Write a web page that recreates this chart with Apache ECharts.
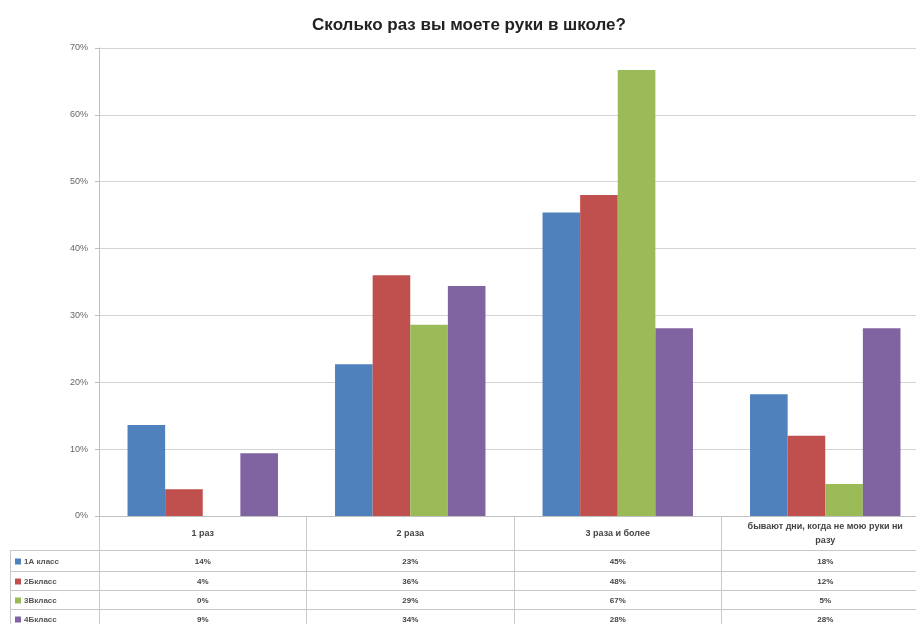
<!DOCTYPE html>
<html>
<head>
<meta charset="utf-8">
<script src="https://cdn.jsdelivr.net/npm/echarts@6/dist/echarts.min.js"></script>
<style>
html,body{margin:0;padding:0;background:#fff}
#main{width:916px;height:624px}
</style>
</head>
<body>
<div id="main"></div>
<script>
// данные с картинки
var categories = ['1 раз', '2 раза', '3 раза и более', 'бывают дни, когда не мою руки ни разу']
var seriesNames = ['1А класс', '2Бкласс', '3Вкласс', '4Бкласс']
var colors = ['#4F81BD', '#C0504D', '#9BBB59', '#8064A2']
var class1A = [13.6, 22.7, 45.4, 18.2]
var class2B = [4.0, 36.0, 48.0, 12.0]
var class3V = [0, 28.6, 66.7, 4.8]
var class4B = [9.4, 34.4, 28.1, 28.1]
var allValues = [class1A, class2B, class3V, class4B]

var FONT = 'Liberation Sans'
var chart = echarts.init(document.getElementById('main'))

var seriesArr = allValues.map(function (vals, i) {
	return {
		type: 'bar',
		name: seriesNames[i],
		data: vals,
		barGap: 0,
		barCategoryGap: '27.5%',
		itemStyle: { color: colors[i] }
	}
})

var option = {
	animation: false,
	color: colors,
	title: {
		text: 'Сколько раз вы моете руки в школе?',
		left: 464,
		textAlign: 'center',
		top: 12,
		textStyle: { fontFamily: FONT, fontSize: 17, fontWeight: 'bold', color: '#222' }
	},
	grid: { left: 99, width: 830, top: 48, bottom: 108, outerBoundsMode: 'none' },
	xAxis: {
		type: 'category',
		data: categories,
		axisLine: { lineStyle: { color: '#bfbfbf' } },
		axisTick: { show: true, length: 130, lineStyle: { color: '#c8c8c8' } },
		axisLabel: {
			interval: 0,
			margin: 18,
			verticalAlign: 'middle',
			lineHeight: 14,
			fontFamily: FONT,
			fontSize: 9,
			fontWeight: 'bold',
			color: '#444',
			formatter: function (v) { return v.replace(' ни разу', ' ни\nразу') }
		}
	},
	yAxis: {
		type: 'value',
		min: 0,
		max: 70,
		interval: 10,
		axisLine: { show: true, lineStyle: { color: '#bfbfbf' } },
		axisTick: { show: true, length: 4, lineStyle: { color: '#bfbfbf' } },
		splitLine: { lineStyle: { color: '#d4d4d4', width: 1 } },
		axisLabel: { formatter: '{value}%', fontFamily: FONT, fontSize: 9, color: '#666', margin: 11 }
	},
	series: seriesArr
}
chart.setOption(option)

// таблица данных под графиком
function drawTable() {
	var zeroY = chart.convertToPixel({ yAxisIndex: 0 }, 0)
	var rowLines = [zeroY + 34, zeroY + 55, zeroY + 74, zeroY + 93, zeroY + 112]
	var elements = []
	rowLines.forEach(function (y) {
		elements.push({
			type: 'line',
			shape: { x1: 10, y1: y + 0.5, x2: 916, y2: y + 0.5 },
			style: { stroke: '#c8c8c8', lineWidth: 1 },
			silent: true
		})
	})
	elements.push({
		type: 'line',
		shape: { x1: 10.5, y1: rowLines[0], x2: 10.5, y2: 624 },
		style: { stroke: '#c8c8c8', lineWidth: 1 },
		silent: true
	})
	for (var r = 0; r < allValues.length; r++) {
		var yc = (rowLines[r] + rowLines[r + 1]) / 2 + 1
		// ключ легенды
		elements.push({
			type: 'rect',
			shape: { x: 15, y: yc - 3, width: 6, height: 6 },
			style: { fill: colors[r] },
			silent: true
		})
		elements.push({
			type: 'text',
			x: 24,
			y: yc,
			silent: true,
			style: {
				text: seriesNames[r],
				fontFamily: FONT,
				fontSize: 8,
				fontWeight: 'bold',
				fill: '#555',
				align: 'left',
				verticalAlign: 'middle'
			}
		})
		for (var c = 0; c < categories.length; c++) {
			var cx = chart.convertToPixel({ xAxisIndex: 0 }, c)
			elements.push({
				type: 'text',
				x: cx,
				y: yc,
				silent: true,
				style: {
					text: Math.round(allValues[r][c]) + '%',
					fontFamily: FONT,
					fontSize: 8,
					fontWeight: 'bold',
					fill: '#444',
					align: 'center',
					verticalAlign: 'middle'
				}
			})
		}
	}
	chart.setOption({ graphic: elements })
}
drawTable()
</script>
</body>
</html>
